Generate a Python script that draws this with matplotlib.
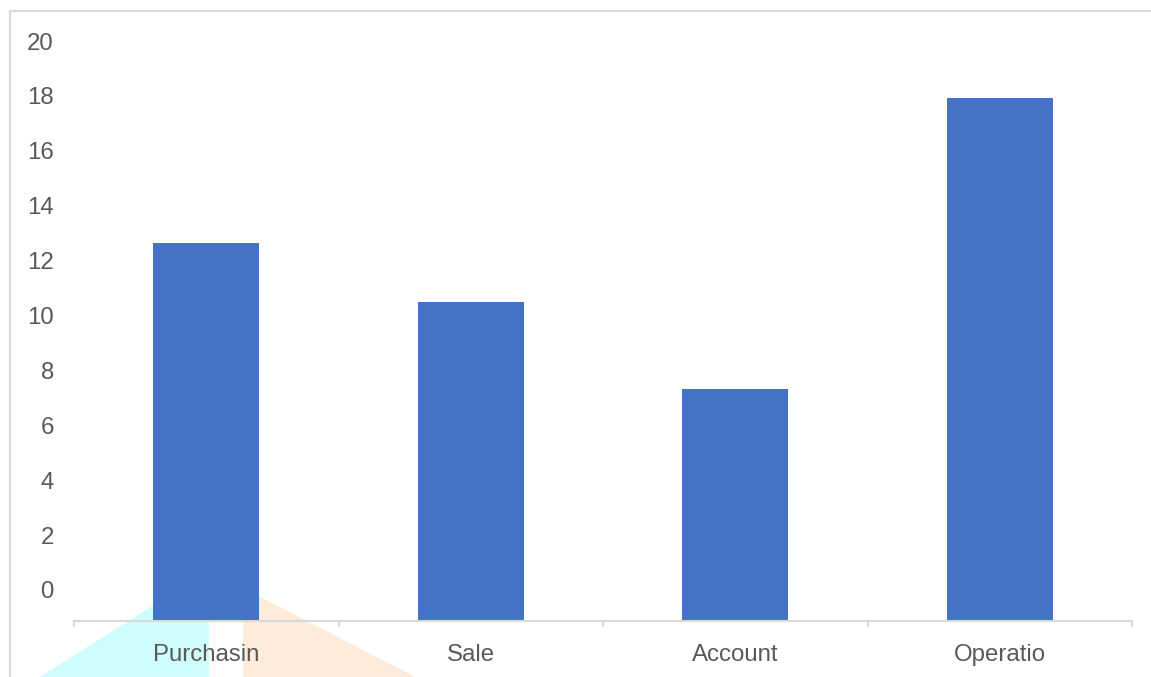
import matplotlib.pyplot as plt
from matplotlib.patches import Polygon
from matplotlib.lines import Line2D

# ===== Data =====
categories = ['Purchasin', 'Sale', 'Account', 'Operatio']
values = [12.63, 10.49, 7.32, 17.91]
y_ticks = [0, 2, 4, 6, 8, 10, 12, 14, 16, 18, 20]

W, H = 1151, 677
plt.rcParams['font.family'] = ['Liberation Sans', 'DejaVu Sans']
txt_color = '#595959'
grid_color = '#d9d9d9'

fig = plt.figure(figsize=(W / 100, H / 100), dpi=100)

# background decorations (pixel coords -> figure coords)
def px(x, y):
    return (x / W, 1 - y / H)

cyan = Polygon([px(40, 677), px(209, 570), px(209, 677)], closed=True,
               transform=fig.transFigure, facecolor='#cffcfc', edgecolor='none', zorder=-1)
peach = Polygon([px(243, 588), px(243, 677), px(415, 677)], closed=True,
                transform=fig.transFigure, facecolor='#feebd9', edgecolor='none', zorder=-1)
fig.patches.extend([cyan, peach])

# outer frame (top and left edges)
fig.add_artist(Line2D([10 / W, 1], [1 - 10.5 / H, 1 - 10.5 / H], transform=fig.transFigure,
                      color=grid_color, linewidth=1.5))
fig.add_artist(Line2D([9.5 / W, 9.5 / W], [0, 1 - 10.5 / H], transform=fig.transFigure,
                      color=grid_color, linewidth=1.5))

# ===== Axes =====
y_bot = (590 - 621) / 27.45
y_top = (590 - 14) / 27.45
ax = fig.add_axes([74 / W, 56 / H, (1132 - 74) / W, (621 - 14) / H])
ax.set_facecolor('none')

x = range(len(categories))
ax.bar(x, [v - y_bot for v in values], bottom=y_bot, width=0.4,
       color='#4472c4', zorder=2)

ax.set_xlim(-0.5, len(categories) - 0.5)
ax.set_ylim(y_bot, y_top)

ax.set_yticks(y_ticks)
ax.set_yticklabels([str(t) for t in y_ticks])
ax.set_xticks(list(x))
ax.set_xticklabels(categories)
ax.set_xticks([i - 0.5 for i in range(len(categories) + 1)], minor=True)

ax.tick_params(axis='y', length=0, pad=14.5, labelsize=17.3, labelcolor=txt_color)
ax.tick_params(axis='x', which='major', length=0, pad=16.5, labelsize=17.3, labelcolor=txt_color)
ax.tick_params(axis='x', which='minor', length=4.5, width=1.5, color=grid_color)

for s in ['top', 'right', 'left']:
    ax.spines[s].set_visible(False)
ax.spines['bottom'].set_color(grid_color)
ax.spines['bottom'].set_linewidth(1.5)
ax.spines['bottom'].set_zorder(3)

plt.savefig('out.png', dpi=100)
